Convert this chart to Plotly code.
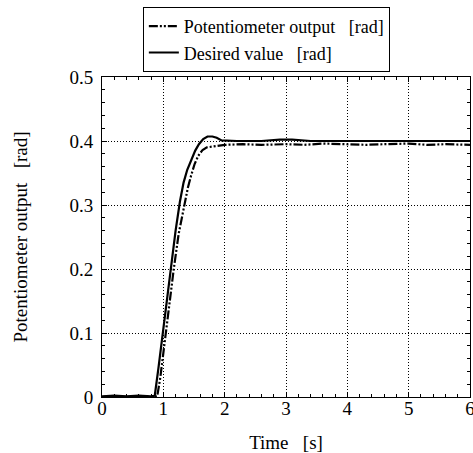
import plotly.graph_objects as go

# desired value [rad]
desired_t = [0.0, 0.2, 0.4, 0.6, 0.8, 0.86, 0.92, 0.99, 1.05, 1.12, 1.2, 1.27, 1.33, 1.39, 1.46,
             1.52, 1.58, 1.65, 1.72, 1.8, 1.87, 1.95, 2.2, 2.6, 2.9, 3.1, 3.4, 3.8, 4.2, 4.5,
             4.8, 5.2, 5.6, 6.0]
desired_v = [0.001, 0.002, 0.001, 0.002, 0.001, 0.002, 0.045, 0.1, 0.15, 0.2, 0.26, 0.305, 0.335,
             0.355, 0.372, 0.385, 0.395, 0.403, 0.407, 0.407, 0.405, 0.401, 0.4, 0.4, 0.402, 0.402,
             0.4, 0.4, 0.4, 0.401, 0.4, 0.4, 0.4, 0.4]

# potentiometer output [rad]
pot_t = [0.0, 0.2, 0.4, 0.6, 0.8, 0.9, 0.95, 1.04, 1.1, 1.17, 1.25, 1.34, 1.4, 1.45, 1.51,
         1.57, 1.64, 1.71, 1.8, 1.9, 2.0, 2.3, 2.6, 3.0, 3.3, 3.6, 4.0, 4.3, 4.6, 5.0, 5.3,
         5.6, 6.0]
pot_v = [0.0, 0.001, 0.0, 0.001, 0.0, 0.001, 0.03, 0.1, 0.15, 0.2, 0.255, 0.3, 0.327, 0.345,
         0.364, 0.377, 0.386, 0.39, 0.391, 0.393, 0.394, 0.395, 0.394, 0.395, 0.394, 0.396,
         0.395, 0.394, 0.395, 0.396, 0.394, 0.395, 0.394]

FONT = "Liberation Serif, serif"

fig = go.Figure()

fig.add_trace(
    go.Scatter(
        x=pot_t,
        y=pot_v,
        mode="lines",
        name="Potentiometer output\u00a0\u00a0\u00a0[rad]",
        line={"color": "black", "width": 2.2, "dash": "9px,2px,2px,2px,2px,2px"},
    )
)

fig.add_trace(
    go.Scatter(
        x=desired_t,
        y=desired_v,
        mode="lines",
        name="Desired value\u00a0\u00a0\u00a0[rad]",
        line={"color": "black", "width": 2.2},
    )
)

fig.update_layout(
    width=473,
    height=453,
    margin={"l": 102, "r": 3, "t": 77, "b": 56, "autoexpand": False},
    paper_bgcolor="white",
    plot_bgcolor="white",
    font={"family": FONT, "size": 19, "color": "black"},
    showlegend=True,
    legend={
        "x": 0.111,
        "y": 1.219,
        "xanchor": "left",
        "yanchor": "top",
        "bordercolor": "black",
        "borderwidth": 1,
        "bgcolor": "white",
        "font": {"family": FONT, "size": 18},
        "tracegroupgap": 0,
        "itemwidth": 30,
    },
)

fig.update_xaxes(
    range=[0, 6],
    dtick=1,
    showline=True,
    linecolor="black",
    linewidth=1,
    mirror="allticks",
    ticks="inside",
    ticklen=5,
    tickcolor="black",
    showgrid=True,
    gridcolor="black",
    griddash="1px,2px",
    gridwidth=1,
    zeroline=False,
    tickfont={"size": 19},
    ticklabelstandoff=-6,
    ticklabeloverflow="allow",
    minor={"dtick": 0.2, "ticks": "inside", "ticklen": 3, "tickcolor": "black", "showgrid": False},
    title={"text": "Time\u00a0\u00a0\u00a0[s]", "font": {"size": 19}, "standoff": 18},
)

fig.update_yaxes(
    range=[0, 0.5],
    dtick=0.1,
    tickformat="~g",
    showline=True,
    linecolor="black",
    linewidth=1,
    mirror="allticks",
    ticks="inside",
    ticklen=5,
    tickcolor="black",
    showgrid=True,
    gridcolor="black",
    griddash="1px,2px",
    gridwidth=1,
    zeroline=False,
    tickfont={"size": 19},
    ticklabelstandoff=4,
    minor={"dtick": 0.02, "ticks": "inside", "ticklen": 3, "tickcolor": "black", "showgrid": False},
    title={"text": "Potentiometer output\u00a0\u00a0\u00a0[rad]", "font": {"size": 19}, "standoff": 36},
)

# drop the default 8px page margin so the figure sits in the window corner
fig.write_html(
    "out.html",
    config={"displayModeBar": False},
    post_script="document.body.style.margin = '0';",
)
